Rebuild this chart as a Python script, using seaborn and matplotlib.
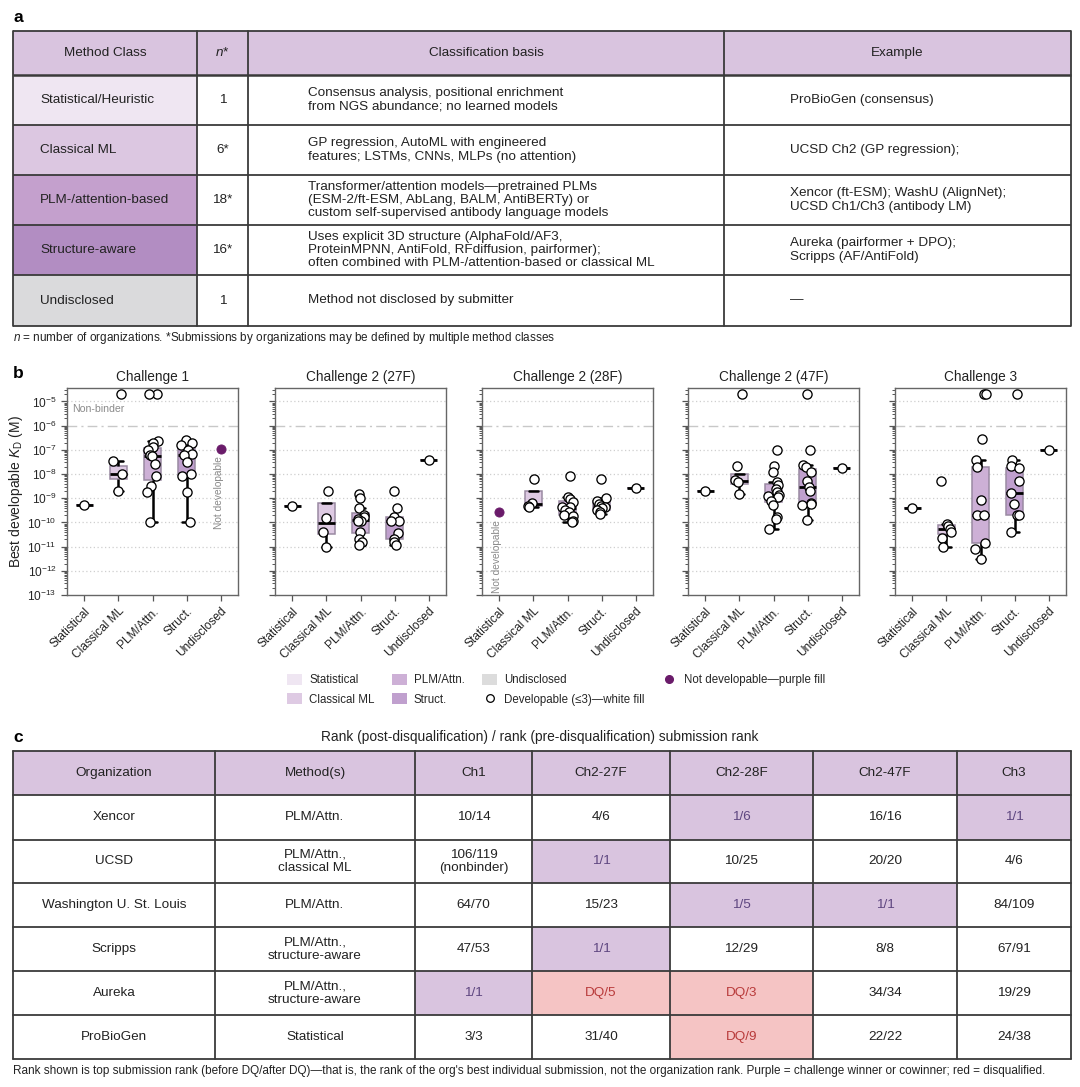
import numpy as np
import pandas as pd
import matplotlib
matplotlib.use("Agg")
import matplotlib.pyplot as plt
import matplotlib.ticker as mticker
from matplotlib.patches import Rectangle, Patch
from matplotlib.lines import Line2D
import seaborn as sns

# ---------------- Panel a: table data ----------------
a_header = ["Method Class", "n*", "Classification basis", "Example"]
a_classes = ["Statistical/Heuristic", "Classical ML", "PLM-/attention-based",
             "Structure-aware", "Undisclosed"]
a_n = ["1", "6*", "18*", "16*", "1"]
a_basis = [
    "Consensus analysis, positional enrichment\nfrom NGS abundance; no learned models",
    "GP regression, AutoML with engineered\nfeatures; LSTMs, CNNs, MLPs (no attention)",
    "Transformer/attention models\u2014pretrained PLMs\n(ESM-2/ft-ESM, AbLang, BALM, AntiBERTy) or\ncustom self-supervised antibody language models",
    "Uses explicit 3D structure (AlphaFold/AF3,\nProteinMPNN, AntiFold, RFdiffusion, pairformer);\noften combined with PLM-/attention-based or classical ML",
    "Method not disclosed by submitter",
]
a_example = [
    "ProBioGen (consensus)",
    "UCSD Ch2 (GP regression);",
    "Xencor (ft-ESM); WashU (AlignNet);\nUCSD Ch1/Ch3 (antibody LM)",
    "Aureka (pairformer + DPO);\nScripps (AF/AntiFold)",
    "\u2014",
]
a_footnote = r"$\mathit{n}$ = number of organizations. *Submissions by organizations may be defined by multiple method classes"

# ---------------- Panel b: KD data ----------------
categories = ["Statistical", "Classical ML", "PLM/Attn.", "Struct.", "Undisclosed"]
challenges = ["Challenge 1", "Challenge 2 (27F)", "Challenge 2 (28F)",
              "Challenge 2 (47F)", "Challenge 3"]
NONBINDER_KD = 2e-5

kd_ch1 = {
    "Statistical": [5.3e-10],
    "Classical ML": [3.3e-8, 1.0e-8, 2.0e-9],
    "PLM/Attn.": [2.3e-7, 2.0e-7, 1.3e-7, 1.0e-7, 6.0e-8, 5.5e-8, 2.5e-8, 8.0e-9, 3.2e-9, 1.8e-9, 1.0e-10],
    "Struct.": [2.5e-7, 2.0e-7, 1.6e-7, 1.0e-7, 7.0e-8, 6.0e-8, 3.2e-8, 1.0e-8, 8.0e-9, 1.8e-9, 1.0e-10],
}
nonbinder_ch1 = {"Classical ML": 1, "PLM/Attn.": 2}
notdev_ch1 = {"Undisclosed": 1.05e-7}

kd_ch2_27f = {
    "Statistical": [4.9e-10],
    "Classical ML": [2.0e-9, 1.5e-10, 3.9e-11, 1.0e-11],
    "PLM/Attn.": [1.5e-9, 1.0e-9, 3.9e-10, 2.0e-10, 1.7e-10, 1.35e-10, 1.2e-10, 1.1e-10, 4.2e-11, 2.0e-11, 1.6e-11, 1.2e-11],
    "Struct.": [1.9e-9, 3.9e-10, 1.65e-10, 1.2e-10, 1.1e-10, 3.5e-11, 2.0e-11, 1.6e-11, 1.2e-11],
    "Undisclosed": [3.8e-8],
}
nonbinder_ch2_27f = {}
notdev_ch2_27f = {}

kd_ch2_28f = {
    "Classical ML": [6.0e-9, 6.5e-10, 4.8e-10, 4.4e-10],
    "PLM/Attn.": [8.3e-9, 1.1e-9, 9.0e-10, 6.8e-10, 4.5e-10, 4.4e-10, 3.3e-10, 2.8e-10, 2.0e-10, 1.8e-10, 1.2e-10, 1.05e-10],
    "Struct.": [6.0e-9, 1.0e-9, 8.0e-10, 6.0e-10, 5.0e-10, 4.2e-10, 4.0e-10, 3.2e-10, 2.8e-10, 2.2e-10],
    "Undisclosed": [2.6e-9],
}
nonbinder_ch2_28f = {}
notdev_ch2_28f = {"Statistical": 2.6e-10}

kd_ch2_47f = {
    "Statistical": [2.0e-9],
    "Classical ML": [2.2e-8, 5.5e-9, 4.6e-9, 1.5e-9],
    "PLM/Attn.": [1.0e-7, 2.2e-8, 1.25e-8, 4.5e-9, 3.5e-9, 2.5e-9, 1.8e-9, 1.3e-9, 1.2e-9, 1.1e-9, 8.0e-10, 5.5e-10, 1.7e-10, 1.4e-10, 5.2e-11],
    "Struct.": [1.0e-7, 2.3e-8, 2.0e-8, 1.2e-8, 5.0e-9, 2.8e-9, 2.0e-9, 6.5e-10, 6.0e-10, 5.5e-10, 1.25e-10],
    "Undisclosed": [1.7e-8],
}
nonbinder_ch2_47f = {"Classical ML": 1, "Struct.": 1}
notdev_ch2_47f = {}

kd_ch3 = {
    "Statistical": [3.8e-10],
    "Classical ML": [5.4e-9, 8.5e-11, 7.0e-11, 5.5e-11, 4.2e-11, 2.2e-11, 1.0e-11],
    "PLM/Attn.": [2.8e-7, 3.8e-8, 1.9e-8, 8.5e-10, 2.1e-10, 2.0e-10, 1.4e-11, 8.0e-12, 3.0e-12],
    "Struct.": [3.8e-8, 2.2e-8, 1.8e-8, 5.4e-9, 1.7e-9, 5.8e-10, 2.1e-10, 2.0e-10, 4.2e-11],
    "Undisclosed": [1.0e-7],
}
nonbinder_ch3 = {"PLM/Attn.": 2, "Struct.": 1}
notdev_ch3 = {}

# ---------------- Panel c: rank table ----------------
c_title = "Rank (post-disqualification) / rank (pre-disqualification) submission rank"
c_header = ["Organization", "Method(s)", "Ch1", "Ch2-27F", "Ch2-28F", "Ch2-47F", "Ch3"]
c_orgs = ["Xencor", "UCSD", "Washington U. St. Louis", "Scripps", "Aureka", "ProBioGen"]
c_methods = ["PLM/Attn.", "PLM/Attn.,\nclassical ML", "PLM/Attn.",
             "PLM/Attn.,\nstructure-aware", "PLM/Attn.,\nstructure-aware", "Statistical"]
c_ranks = [
    ["10/14", "4/6", "1/6", "16/16", "1/1"],
    ["106/119\n(nonbinder)", "1/1", "10/25", "20/20", "4/6"],
    ["64/70", "15/23", "1/5", "1/1", "84/109"],
    ["47/53", "1/1", "12/29", "8/8", "67/91"],
    ["1/1", "DQ/5", "DQ/3", "34/34", "19/29"],
    ["3/3", "31/40", "DQ/9", "22/22", "24/38"],
]
c_status = [  # W = winner/cowinner, D = disqualified
    ["", "", "W", "", "W"],
    ["", "W", "", "", ""],
    ["", "", "W", "W", ""],
    ["", "W", "", "", ""],
    ["W", "D", "D", "", ""],
    ["", "", "D", "", ""],
]
c_footnote = ("Rank shown is top submission rank (before DQ/after DQ)\u2014that is, the rank of the org's best "
              "individual submission, not the organization rank. Purple = challenge winner or cowinner; red = disqualified.")

# ---------------- Style ----------------
sns.set_theme(style="ticks")
plt.rcParams['font.family'] = ['Liberation Sans', 'DejaVu Sans']
plt.rcParams['mathtext.fontset'] = 'custom'
plt.rcParams['mathtext.rm'] = 'Liberation Sans'
plt.rcParams['mathtext.it'] = 'Liberation Sans:italic'
plt.rcParams['mathtext.bf'] = 'Liberation Sans:bold'

HEAD = "#D9C4DF"
class_fill = ["#EFE6F2", "#DCC7E1", "#C4A0CD", "#B28DC2", "#DADADC"]
box_colors = {"Statistical": "#EFE6F2", "Classical ML": "#DECAE3", "PLM/Attn.": "#CDB0D6",
              "Struct.": "#C0A0CE", "Undisclosed": "#DCDCDC"}
PURPLE = "#6A1B6A"
LINE = "#3a3a3a"
TXT = "#222222"

fig = plt.figure(figsize=(10.8, 10.87), dpi=100)
ov = fig.add_axes([0, 0, 1, 1])
ov.set_xlim(0, 1080)
ov.set_ylim(1087, 0)
ov.axis('off')

FS = 9.7
FN = 8.5
LS = 1.15

# panel labels
for lab, yy in [("a", 17), ("b", 373), ("c", 737)]:
    ov.text(13, yy, lab, fontsize=12.5, fontweight='bold', ha='left', va='center', color='black')

# ---------------- Table a ----------------
col_a = [13, 197, 248, 724, 1071]
row_a = [31, 75, 125, 175, 225, 275, 326]
ov.add_patch(Rectangle((col_a[0], row_a[0]), col_a[-1] - col_a[0], row_a[1] - row_a[0],
                       fc=HEAD, ec='none'))
for i in range(5):
    ov.add_patch(Rectangle((col_a[0], row_a[i + 1]), col_a[1] - col_a[0], row_a[i + 2] - row_a[i + 1],
                           fc=class_fill[i], ec='none'))
for y in row_a:
    ov.plot([col_a[0], col_a[-1]], [y, y], color=LINE, lw=1.3 if y != row_a[1] else 1.8,
            solid_capstyle='butt')
for x in col_a:
    ov.plot([x, x], [row_a[0], row_a[-1]], color=LINE, lw=1.3)
for j, h in enumerate(a_header):
    cx = (col_a[j] + col_a[j + 1]) / 2
    ov.text(cx, (row_a[0] + row_a[1]) / 2, h, ha='center', va='center', fontsize=FS, color=TXT,
            style='italic' if h == "n*" else 'normal')
for i in range(5):
    cy = (row_a[i + 1] + row_a[i + 2]) / 2
    ov.text(40, cy, a_classes[i], ha='left', va='center', fontsize=FS, color=TXT)
    ov.text((col_a[1] + col_a[2]) / 2, cy, a_n[i], ha='center', va='center', fontsize=FS, color=TXT)
    ov.text(308, cy, a_basis[i], ha='left', va='center', fontsize=FS, color=TXT, linespacing=LS)
    ov.text(790, cy, a_example[i], ha='left', va='center', fontsize=FS, color=TXT, linespacing=LS)
ov.text(13, 338, a_footnote, ha='left', va='center', fontsize=FN, color=TXT)

# ---------------- Panel b ----------------
def build_frames(kd, nonbinder, notdev):
    b = pd.DataFrame([(c, v) for c in categories for v in kd.get(c, [])], columns=["category", "kd"])
    pts = pd.DataFrame([(c, v) for c in categories for v in kd.get(c, [])] +
                       [(c, NONBINDER_KD) for c in categories for _ in range(nonbinder.get(c, 0))],
                       columns=["category", "kd"])
    nd = pd.DataFrame([(c, v) for c, v in notdev.items()], columns=["category", "kd"])
    return b, pts, nd

panel_data = [
    (kd_ch1, nonbinder_ch1, notdev_ch1),
    (kd_ch2_27f, nonbinder_ch2_27f, notdev_ch2_27f),
    (kd_ch2_28f, nonbinder_ch2_28f, notdev_ch2_28f),
    (kd_ch2_47f, nonbinder_ch2_47f, notdev_ch2_47f),
    (kd_ch3, nonbinder_ch3, notdev_ch3),
]
lefts = [67, 275, 482, 688, 895]
W_px, top_px, bot_px = 171, 388, 595
np.random.seed(7)
for k, (title, (kd, nb, nd_d)) in enumerate(zip(challenges, panel_data)):
    ax = fig.add_axes([lefts[k] / 1080, 1 - bot_px / 1087, W_px / 1080, (bot_px - top_px) / 1087])
    b, pts, nd = build_frames(kd, nb, nd_d)
    for e in range(-12, -4):
        if e == -6:
            ax.axhline(10.0 ** e, color="#c8c8c8", lw=1.0, ls=(0, (7, 3, 1.5, 3)), zorder=0)
        else:
            ax.axhline(10.0 ** e, color="#cfcfcf", lw=0.9, ls=(0, (1, 2)), zorder=0)
    sns.boxplot(data=b, x="category", y="kd", order=categories, hue="category",
                palette=box_colors, saturation=1, width=0.5, whis=1.5, showfliers=False,
                linecolor="black", legend=False, ax=ax,
                boxprops=dict(edgecolor="#9a8aa2", linewidth=1.1),
                whiskerprops=dict(linewidth=1.8, color="black"),
                capprops=dict(linewidth=1.8, color="black"),
                medianprops=dict(linewidth=2.0, color="black"))
    sns.stripplot(data=pts, x="category", y="kd", order=categories, color="white",
                  edgecolor="black", linewidth=0.95, size=6.6, jitter=0.17, ax=ax, zorder=4)
    if len(nd):
        sns.stripplot(data=nd, x="category", y="kd", order=categories, color=PURPLE,
                      edgecolor=PURPLE, linewidth=0.6, size=6.6, jitter=False, ax=ax, zorder=4)
        for _, r in nd.iterrows():
            xi = categories.index(r["category"])
            ax.text(xi - 0.05, r["kd"] * 10 ** -0.3, "Not developable", rotation=90,
                    ha='center', va='top', fontsize=7.3, color="#8a8a8a")
    ax.set_yscale('log')
    ax.set_ylim(1e-13, 3.6e-5)
    ax.set_xlim(-0.5, 4.5)
    ax.yaxis.set_major_locator(mticker.LogLocator(base=10, numticks=30))
    ax.yaxis.set_minor_locator(mticker.LogLocator(base=10, subs=np.arange(2, 10), numticks=30))
    ax.yaxis.set_minor_formatter(mticker.NullFormatter())
    ax.set_xticks(range(5))
    ax.set_xticklabels(categories, rotation=45, ha='right', rotation_mode='anchor', fontsize=8.8,
                       color=TXT)
    ax.set_xlabel("")
    ax.set_title(title, fontsize=9.8, pad=5, color=TXT)
    for s in ax.spines.values():
        s.set_visible(True)
        s.set_color("#666666")
        s.set_linewidth(1.0)
    ax.tick_params(axis='both', which='major', color="#555555", length=4, width=0.9, labelsize=8.6)
    ax.tick_params(axis='y', which='minor', color="#555555", length=2.2, width=0.7)
    ax.set_facecolor("white")
    if k == 0:
        ax.set_ylabel(r"Best developable $\mathit{K}_\mathrm{D}$ (M)", fontsize=10, color=TXT, labelpad=2)
        ax.text(-0.35, 5.0e-6, "Non-binder", ha='left', va='center', fontsize=7.6, color="#8a8a8a")
    else:
        ax.set_ylabel("")
        ax.tick_params(axis='y', labelleft=False)

# legend
leg_labels = ["Statistical", "Classical ML", "PLM/Attn.", "Struct.", "Undisclosed",
              "Developable (\u22643)\u2014white fill", "Not developable\u2014purple fill"]
handles = [Patch(fc=box_colors[c], ec='none', label=l) for c, l in zip(categories, leg_labels[:5])]
handles.append(Line2D([], [], marker='o', ls='none', mfc='white', mec='black', mew=0.9,
                      markersize=5.5, label=leg_labels[5]))
handles.append(Line2D([], [], marker='o', ls='none', mfc=PURPLE, mec=PURPLE,
                      markersize=5.5, label=leg_labels[6]))
fig.legend(handles=handles, ncol=4, loc='upper left', bbox_to_anchor=(277 / 1080, 1 - 664 / 1087),
           frameon=False, fontsize=8.3, handlelength=1.3, handleheight=1.0, columnspacing=1.5,
           labelspacing=0.6, handletextpad=0.6)

# ---------------- Table c ----------------
ov.text(540, 737, c_title, ha='center', va='center', fontsize=9.9, color=TXT)
col_c = [13, 215, 415, 532, 670, 813, 957, 1071]
row_c = [751, 795, 840, 883, 927, 971, 1015, 1059]
ov.add_patch(Rectangle((col_c[0], row_c[0]), col_c[-1] - col_c[0], row_c[1] - row_c[0], fc=HEAD, ec='none'))
for i in range(6):
    for j in range(5):
        st = c_status[i][j]
        if st:
            ov.add_patch(Rectangle((col_c[j + 2], row_c[i + 1]), col_c[j + 3] - col_c[j + 2],
                                   row_c[i + 2] - row_c[i + 1],
                                   fc=HEAD if st == "W" else "#F5C4C4", ec='none'))
for y in row_c:
    ov.plot([col_c[0], col_c[-1]], [y, y], color=LINE, lw=1.3)
for x in col_c:
    ov.plot([x, x], [row_c[0], row_c[-1]], color=LINE, lw=1.3)
for j, h in enumerate(c_header):
    ov.text((col_c[j] + col_c[j + 1]) / 2, (row_c[0] + row_c[1]) / 2, h, ha='center', va='center',
            fontsize=FS, color=TXT)
for i in range(6):
    cy = (row_c[i + 1] + row_c[i + 2]) / 2
    ov.text((col_c[0] + col_c[1]) / 2, cy, c_orgs[i], ha='center', va='center', fontsize=FS, color=TXT)
    ov.text((col_c[1] + col_c[2]) / 2, cy, c_methods[i], ha='center', va='center', fontsize=FS,
            color=TXT, linespacing=LS)
    for j in range(5):
        st = c_status[i][j]
        col = {"W": "#5E4680", "D": "#B83A3A"}.get(st, TXT)
        ov.text((col_c[j + 2] + col_c[j + 3]) / 2, cy, c_ranks[i][j], ha='center', va='center',
                fontsize=FS, color=col, linespacing=LS)
ov.text(13, 1071, c_footnote, ha='left', va='center', fontsize=FN, color=TXT)

fig.savefig("out.png", dpi=100)
